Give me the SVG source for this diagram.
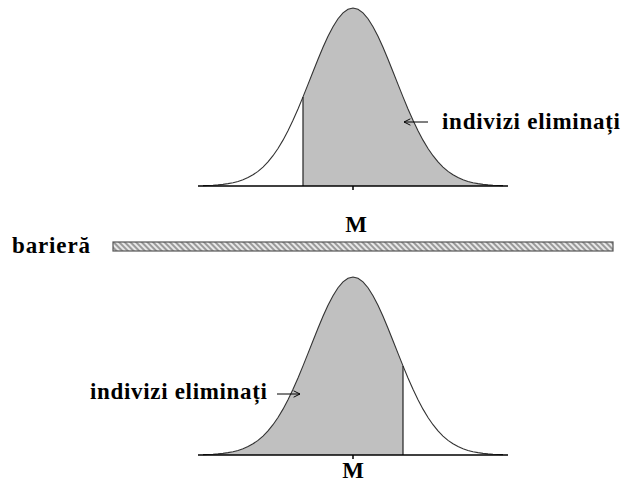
<svg xmlns="http://www.w3.org/2000/svg" width="629" height="485" viewBox="0 0 629 485">
<style>
.lbl{font-family:"Liberation Serif","Times New Roman",serif;font-weight:bold;font-size:23px;fill:#000}
.curve{fill:none;stroke:#333;stroke-width:1.1}
.area{fill:#c0c0c0;stroke:none}
.base{stroke:#000;stroke-width:1.5;fill:none}
.cut{stroke:#222;stroke-width:1.2;fill:none}
.arrow{stroke:#000;stroke-width:1;fill:none}
</style>
<defs>
<path id="gauss" d="M-150,-0.35 L-145,-0.53 L-140,-0.78 L-135,-1.15 L-130,-1.66 L-125,-2.36 L-120,-3.31 L-115,-4.58 L-110,-6.25 L-105,-8.42 L-100,-11.18 L-95,-14.63 L-90,-18.9 L-85,-24.09 L-80,-30.28 L-75,-37.52 L-70,-45.85 L-65,-55.27 L-60,-65.7 L-55,-77.04 L-50,-89.11 L-45,-101.62 L-40,-114.31 L-35,-126.81 L-30,-138.75 L-25,-149.72 L-20,-159.35 L-15,-167.25 L-10,-173.14 L-5,-176.77 L0,-178 L5,-176.77 L10,-173.14 L15,-167.25 L20,-159.35 L25,-149.72 L30,-138.75 L35,-126.81 L40,-114.31 L45,-101.62 L50,-89.11 L55,-77.04 L60,-65.7 L65,-55.27 L70,-45.85 L75,-37.52 L80,-30.28 L85,-24.09 L90,-18.9 L95,-14.63 L100,-11.18 L105,-8.42 L110,-6.25 L115,-4.58 L120,-3.31 L125,-2.36 L130,-1.66 L135,-1.15 L140,-0.78 L145,-0.53 L150,-0.35"/>
<pattern id="hatch" width="4" height="4" patternUnits="userSpaceOnUse" patternTransform="rotate(-45)">
<rect width="4" height="4" fill="#e8e8e8"/>
<rect width="2" height="4" fill="#9a9a9a"/>
</pattern>
<marker id="ah" viewBox="0 0 10 10" refX="9" refY="5" markerWidth="8" markerHeight="8" markerUnits="userSpaceOnUse" orient="auto">
<path d="M1,1 L9,5 L1,9" fill="none" stroke="#000" stroke-width="1.2"/>
</marker>
</defs>

<g id="top-distribution" transform="translate(353,186)">
<path class="area" d="M-50,0 L-50,-89.11 L-45,-101.62 L-40,-114.31 L-35,-126.81 L-30,-138.75 L-25,-149.72 L-20,-159.35 L-15,-167.25 L-10,-173.14 L-5,-176.77 L0,-178 L5,-176.77 L10,-173.14 L15,-167.25 L20,-159.35 L25,-149.72 L30,-138.75 L35,-126.81 L40,-114.31 L45,-101.62 L50,-89.11 L55,-77.04 L60,-65.7 L65,-55.27 L70,-45.85 L75,-37.52 L80,-30.28 L85,-24.09 L90,-18.9 L95,-14.63 L100,-11.18 L105,-8.42 L110,-6.25 L115,-4.58 L120,-3.31 L125,-2.36 L130,-1.66 L135,-1.15 L140,-0.78 L145,-0.53 L150,-0.35 L150,0 Z"/>
<use href="#gauss" class="curve"/>
<line class="cut" x1="-50" y1="0" x2="-50" y2="-89.11"/>
<line class="base" x1="-155" y1="0" x2="155" y2="0"/>
<line class="base" x1="0" y1="0" x2="0" y2="4"/>
</g>

<g id="top-M"><text class="lbl" x="356" y="232" text-anchor="middle">M</text></g>

<g id="top-label"><text class="lbl" x="442" y="129" textLength="178" lengthAdjust="spacing">indivizi eliminați</text></g>

<g id="barrier">
<text class="lbl" x="12" y="253" textLength="78" lengthAdjust="spacing">barieră</text>
<rect x="113" y="242" width="500" height="9" fill="url(#hatch)" stroke="#555" stroke-width="1.2"/>
</g>

<g id="bottom-distribution" transform="translate(353,455)">
<path class="area" d="M-150,0 L-150,-0.35 L-145,-0.53 L-140,-0.78 L-135,-1.15 L-130,-1.66 L-125,-2.36 L-120,-3.31 L-115,-4.58 L-110,-6.25 L-105,-8.42 L-100,-11.18 L-95,-14.63 L-90,-18.9 L-85,-24.09 L-80,-30.28 L-75,-37.52 L-70,-45.85 L-65,-55.27 L-60,-65.7 L-55,-77.04 L-50,-89.11 L-45,-101.62 L-40,-114.31 L-35,-126.81 L-30,-138.75 L-25,-149.72 L-20,-159.35 L-15,-167.25 L-10,-173.14 L-5,-176.77 L0,-178 L5,-176.77 L10,-173.14 L15,-167.25 L20,-159.35 L25,-149.72 L30,-138.75 L35,-126.81 L40,-114.31 L45,-101.62 L50,-89.11 L50,0 Z"/>
<use href="#gauss" class="curve"/>
<line class="cut" x1="50" y1="0" x2="50" y2="-89.11"/>
<line class="base" x1="-155" y1="0" x2="155" y2="0"/>
<line class="base" x1="0" y1="0" x2="0" y2="4"/>
</g>

<g id="bottom-M"><text class="lbl" x="353" y="478" text-anchor="middle">M</text></g>

<g id="bottom-label"><text class="lbl" x="90" y="399" textLength="177" lengthAdjust="spacing">indivizi eliminați</text></g>

<g id="connectors">
<line class="arrow" x1="428" y1="122" x2="404" y2="122" marker-end="url(#ah)"/>
<line class="arrow" x1="277" y1="394" x2="300" y2="394" marker-end="url(#ah)"/>
</g>
</svg>
